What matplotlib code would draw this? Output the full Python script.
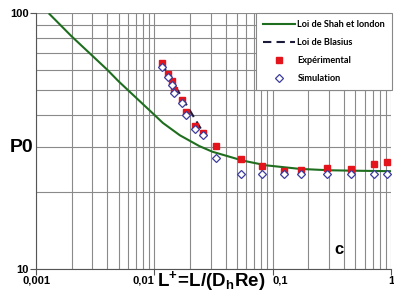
import matplotlib
matplotlib.use('Agg')
import matplotlib.pyplot as plt
from matplotlib.ticker import FixedLocator, LogLocator, NullFormatter

plt.rcParams['font.family'] = ['Liberation Sans', 'DejaVu Sans']
plt.rcParams['mathtext.fontset'] = 'custom'
plt.rcParams['mathtext.rm'] = 'Liberation Sans'
plt.rcParams['mathtext.bf'] = 'Liberation Sans:bold'

# Loi de Shah et London
shah_x = [0.0013, 0.002, 0.004, 0.005, 0.01, 0.0118, 0.0164, 0.024, 0.031,
          0.056, 0.088, 0.17, 0.3, 0.5, 1.0]
shah_y = [99, 81, 60, 54, 40, 37.2, 33.3, 30.2, 28.7, 26.5, 25.4, 24.6, 24.3,
          24.2, 24.1]

# Loi de Blasius
blasius_x = [0.0115, 0.027]
blasius_y = [63.5, 33.0]

# Expérimental
exp_x = [0.0117, 0.01305, 0.0141, 0.01466, 0.01726, 0.01866, 0.0222, 0.02574,
         0.0334, 0.0542, 0.0809, 0.124, 0.175, 0.288, 0.459, 0.722, 0.934]
exp_y = [64.0, 57.8, 54.4, 50.0, 45.7, 41.2, 36.2, 34.1,
         30.1, 26.8, 25.3, 24.2, 24.3, 24.7, 24.5, 25.6, 26.1]

# Simulation
sim_x = [0.0117, 0.01305, 0.0141, 0.01466, 0.01726, 0.01866, 0.0222, 0.02574,
         0.0334, 0.0542, 0.0809, 0.124, 0.175, 0.288, 0.459, 0.722, 0.934]
sim_y = [61.5, 56.0, 52.5, 48.5, 44.3, 40.0, 35.3, 33.3,
         27.1, 23.5, 23.5, 23.5, 23.4, 23.5, 23.5, 23.5, 23.5]

xticks = [0.001, 0.01, 0.1, 1]
xtick_labels = ['0,001', '0,01', '0,1', '1']
yticks = [10, 100]
ytick_labels = ['10', '100']

fig = plt.figure(figsize=(3.94, 2.94), dpi=100)
ax = fig.add_axes([0.0914, 0.085, 0.901, 0.871])
ax.set_xscale('log')
ax.set_yscale('log')
ax.set_xlim(0.001, 1)
ax.set_ylim(10, 100)

ax.plot(shah_x, shah_y, color='#1f6e1f', lw=1.5, label='Loi de Shah et london', zorder=3)
ax.plot(blasius_x, blasius_y, color='#1a1a3a', lw=1.5, dashes=(4, 2.5),
        label='Loi de Blasius', zorder=4)
ax.plot(exp_x, exp_y, ls='none', marker='s', ms=5, color='#e3141c',
        label='Expérimental', zorder=5)
ax.plot(sim_x, sim_y, ls='none', marker='D', ms=3.6, mfc='white', mec='#3c3c9c',
        mew=0.9, label='Simulation', zorder=6)

# ticks
ax.xaxis.set_major_locator(FixedLocator(xticks))
ax.set_xticklabels(xtick_labels, fontsize=8, fontweight='bold')
ax.xaxis.set_minor_locator(LogLocator(base=10, subs=range(2, 10)))
ax.xaxis.set_minor_formatter(NullFormatter())
ax.yaxis.set_major_locator(FixedLocator(yticks))
ax.set_yticklabels(ytick_labels, fontsize=8, fontweight='bold')
ax.yaxis.set_minor_locator(LogLocator(base=10, subs=range(2, 10)))
ax.yaxis.set_minor_formatter(NullFormatter())
labs = ax.get_xticklabels()
labs[1].set_ha('right')
labs[2].set_ha('left')
ax.tick_params(axis='both', which='major', length=4, width=0.8, color='#555555', pad=1)
ax.tick_params(axis='both', which='minor', length=0)

ax.grid(True, which='both', color='#8a8a8a', lw=0.8)
ax.set_axisbelow(True)
for side in ['top', 'right']:
    ax.spines[side].set_visible(False)
for side in ['left', 'bottom']:
    ax.spines[side].set_color('#555555')

fig.text(0.025, 0.5, 'P0', fontsize=14, fontweight='bold', va='center', ha='left')
fig.text(0.398, 0.005, r'$\mathbf{L^{+}\!=\!L/(D_{h}Re)}$', fontsize=13.5,
         va='bottom', ha='left')
ax.text(0.84, 0.06, 'c', transform=ax.transAxes, fontsize=12, fontweight='bold')

leg = ax.legend(loc='upper right', bbox_to_anchor=(1.003, 1.0),
                prop={'family': 'Lato', 'weight': 'bold', 'size': 6.6},
                handlelength=3.5, fancybox=False, framealpha=1,
                edgecolor='#888888', borderpad=0.75, labelspacing=1.0,
                handletextpad=0.3, borderaxespad=0)
leg.get_frame().set_linewidth(0.8)

fig.savefig('out.png', dpi=100)
